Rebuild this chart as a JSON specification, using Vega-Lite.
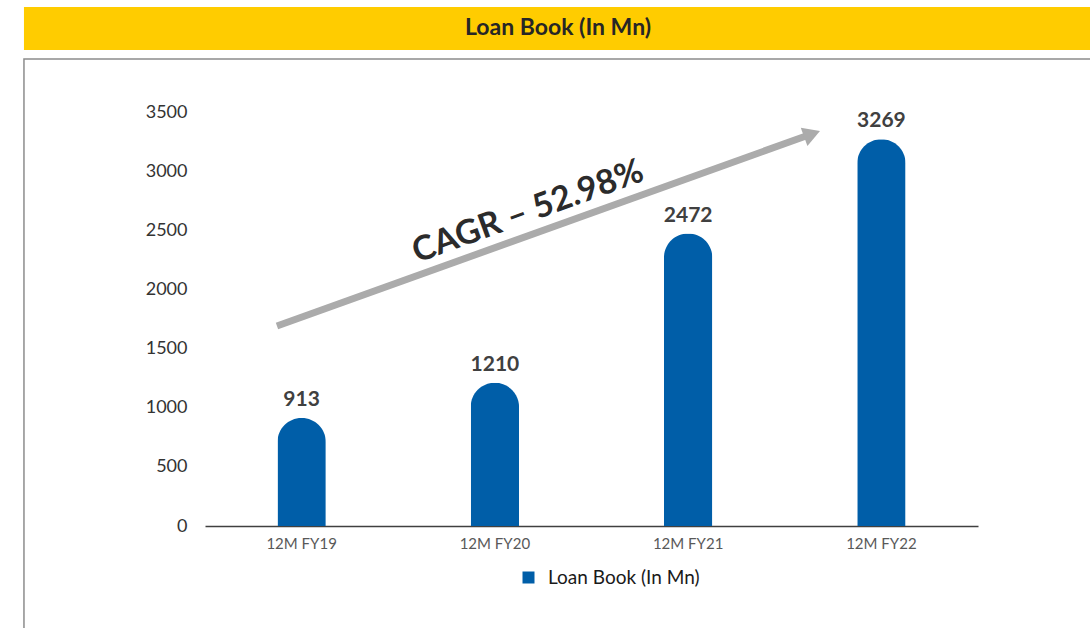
{
  "$schema": "https://vega.github.io/schema/vega-lite/v6.json",
  "autosize": {"type": "none"},
  "padding": {"left": 205, "top": 112, "right": 112, "bottom": 102},
  "width": 773,
  "height": 414,
  "background": "white",
  "config": {
    "view": {"stroke": null},
    "font": "Lato",
    "axis": {"labelFont": "Lato", "grid": false}
  },
  "datasets": {
    "bars": [
      {"period": "12M FY19", "value": 913, "series": "Loan Book (In Mn)"},
      {"period": "12M FY20", "value": 1210, "series": "Loan Book (In Mn)"},
      {"period": "12M FY21", "value": 2472, "series": "Loan Book (In Mn)"},
      {"period": "12M FY22", "value": 3269, "series": "Loan Book (In Mn)"}
    ]
  },
  "resolve": {"scale": {"x": "independent"}, "axis": {"x": "independent"}},
  "layer": [
    {
      "data": {"name": "bars"},
      "encoding": {
        "x": {
          "field": "period", "type": "nominal", "sort": null,
          "scale": {"paddingInner": 0, "paddingOuter": 0},
          "axis": {"title": null, "labelAngle": 0, "ticks": false, "domain": true, "domainColor": "#404040", "domainWidth": 1.5, "labelFontSize": 15, "labelColor": "#595959", "labelPadding": 10}
        },
        "y": {
          "field": "value", "type": "quantitative",
          "scale": {"domain": [0, 3500], "nice": false},
          "axis": {"title": null, "format": "d", "values": [0, 500, 1000, 1500, 2000, 2500, 3000, 3500], "domain": false, "ticks": false, "labelPadding": 18, "labelFontSize": 18, "labelColor": "#333333"}
        }
      },
      "layer": [
        {
          "mark": {"type": "bar", "width": {"band": 0.25}, "cornerRadiusTopLeft": 24, "cornerRadiusTopRight": 24},
          "encoding": {
            "color": {
              "field": "series", "type": "nominal",
              "scale": {"range": ["#005EA8"]},
              "legend": {"title": null, "orient": "none", "legendX": 314, "legendY": 456, "symbolType": "square", "symbolSize": 144, "labelFontSize": 19, "labelOffset": 10, "labelColor": "#1a1a1a", "labelFont": "Lato"}
            }
          }
        },
        {
          "mark": {"type": "text", "baseline": "bottom", "dy": -8, "fontSize": 21, "fontWeight": "bold", "color": "#404040", "font": "Lato"},
          "encoding": {"text": {"field": "value", "type": "quantitative"}}
        }
      ]
    },
    {
      "encoding": {
        "y": {
          "field": "y", "type": "quantitative",
          "scale": {"domain": [0, 3500], "nice": false},
          "axis": {"title": null, "format": "d", "values": [0, 500, 1000, 1500, 2000, 2500, 3000, 3500], "domain": false, "ticks": false, "labelPadding": 18, "labelFontSize": 18, "labelColor": "#333333"}
        }
      },
      "layer": [
        {
          "data": {"values": [{"x": -0.2342, "x2": 1.2, "y": 4024, "y2": 4387}]},
          "mark": {"type": "rect", "fill": "#FFCC00", "clip": false},
          "encoding": {
            "x": {"field": "x", "type": "quantitative", "scale": {"domain": [0, 1], "nice": false, "zero": false}, "axis": null},
            "x2": {"field": "x2"},
            "y2": {"field": "y2"}
          }
        },
        {
          "data": {"values": [{"x": 0.4567, "y": 4210, "label": "Loan Book (In Mn)"}]},
          "mark": {"type": "text", "fontSize": 23, "fontWeight": "bold", "color": "#262626", "align": "center", "baseline": "middle", "font": "Lato"},
          "encoding": {
            "x": {"field": "x", "type": "quantitative", "axis": null},
            "text": {"field": "label"}
          }
        },
        {
          "data": {"values": [{"x": -0.2342, "x2": 1.2, "y": -980, "y2": 3948}]},
          "mark": {"type": "rect", "filled": false, "stroke": "#8c8c8c", "strokeWidth": 1.5, "clip": false},
          "encoding": {
            "x": {"field": "x", "type": "quantitative", "axis": null},
            "x2": {"field": "x2"},
            "y2": {"field": "y2"}
          }
        },
        {
          "data": {"values": [{"x": 0.0931, "y": 1691, "x2": 0.7775, "y2": 3297}]},
          "mark": {"type": "rule", "color": "#ABABAB", "strokeWidth": 7},
          "encoding": {
            "x": {"field": "x", "type": "quantitative", "axis": null},
            "x2": {"field": "x2"},
            "y2": {"field": "y2"}
          }
        },
        {
          "data": {"values": [{"x": 0.7853, "y": 3314}]},
          "mark": {"type": "point", "shape": "triangle-right", "filled": true, "color": "#ABABAB", "size": 380, "angle": 340, "opacity": 1},
          "encoding": {
            "x": {"field": "x", "type": "quantitative", "axis": null}
          }
        },
        {
          "data": {"values": [{"x": 0.4179, "y": 2654, "label": "CAGR – 52.98%"}]},
          "mark": {"type": "text", "fontSize": 34, "fontWeight": "bold", "color": "#2b2b2b", "align": "center", "baseline": "middle", "angle": 340, "font": "Lato"},
          "encoding": {
            "x": {"field": "x", "type": "quantitative", "axis": null},
            "text": {"field": "label"}
          }
        }
      ]
    }
  ]
}
